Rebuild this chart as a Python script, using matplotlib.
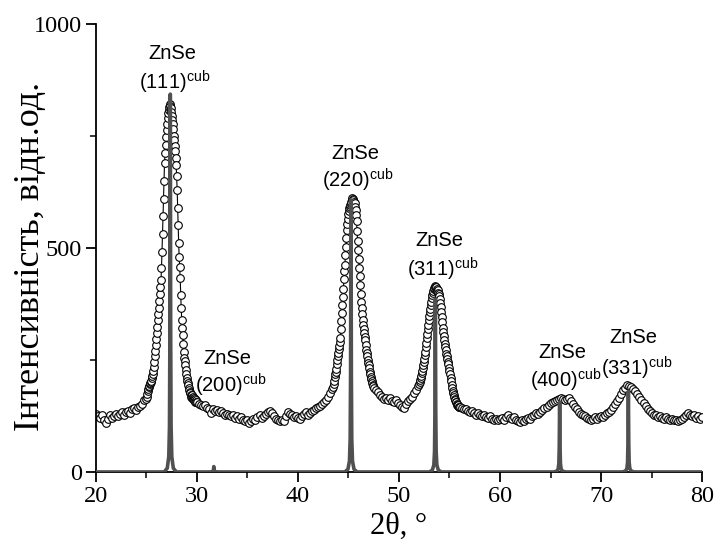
import matplotlib
matplotlib.use("Agg")
import matplotlib.pyplot as plt
import numpy as np

"""Data read off the XRD pattern"""

# measured intensity, split in runs: (start angle, step, values)
int_20_25 = [130, 125, 121, 126, 117, 110, 118, 127, 121, 125, 130, 124, 129, 133, 128,
             134, 137, 132, 140, 143, 138, 146, 148, 152, 160]
int_25_30 = [163, 168, 174, 180, 185, 189, 192, 196, 199, 201, 204, 210, 214, 219, 226,
             235, 246, 258, 270, 284, 297, 310, 324, 338, 352, 366, 382, 398, 412, 428,
             455, 490, 530, 570, 610, 650, 690, 712, 730, 748, 762, 776, 790, 800, 808,
             815, 820, 817, 812, 804, 795, 786, 776, 765, 750, 740, 728, 715, 700, 685,
             660, 630, 590, 550, 510, 480, 458, 432, 395, 365, 340, 322, 305, 285, 268,
             255, 247, 238, 228, 218, 210, 204, 198, 193, 188, 183, 179, 176, 172, 168,
             171, 165, 168, 162, 165, 160, 163, 157, 160, 155]
int_30_43 = [156, 152, 150, 147, 149, 143, 140, 132, 141, 137, 139, 133, 136, 131, 128,
             130, 126, 124, 127, 121, 124, 119, 122, 116, 113, 115, 110, 114, 118, 116,
             122, 126, 121, 125, 130, 133, 136, 131, 125, 119, 116, 113, 117, 114, 124,
             133, 130, 126, 122, 125, 120, 118, 124, 130, 133, 128, 132, 136, 139, 142,
             145, 148, 152, 156, 161, 168, 176, 185]
int_43_47 = [190, 196, 203, 212, 218, 224, 230, 240, 250, 258, 266, 274, 281, 289, 300,
             318, 336, 355, 372, 390, 408, 430, 448, 462, 484, 503, 523, 540, 553, 565,
             575, 582, 588, 592, 596, 598, 602, 606, 611, 609, 606, 603, 600, 592, 584,
             573, 560, 538, 515, 495, 475, 456, 438, 418, 397, 380, 365, 352, 338, 327,
             318, 310, 302, 294, 283, 273, 265, 258, 250, 244, 238, 231, 224, 218, 212,
             207, 202, 198, 194, 191]
int_47_52 = [188, 182, 178, 172, 168, 163, 166, 160, 164, 158, 155, 160, 154, 150, 146,
             143, 152, 158, 163, 168, 176, 183, 192]
int_52_56 = [196, 200, 206, 210, 215, 220, 226, 232, 238, 245, 252, 260, 268, 278, 288,
             298, 308, 318, 328, 338, 347, 356, 364, 372, 380, 388, 395, 400, 404, 408,
             411, 414, 413, 410, 412, 408, 404, 405, 400, 396, 392, 385, 377, 368, 358,
             346, 334, 322, 312, 303, 294, 286, 278, 271, 264, 258, 252, 246, 240, 232,
             225, 218, 210, 202, 195, 188, 181, 176, 171, 167, 163, 160, 157, 155, 152,
             150, 148, 150, 146, 144]
int_56_80 = [146, 143, 140, 141, 137, 134, 136, 131, 128, 131, 126, 124, 127, 122, 120,
             124, 118, 116, 119, 115, 118, 121, 117, 123, 126, 121, 118, 122, 117, 114,
             112, 116, 113, 119, 121, 118, 124, 128, 131, 129, 134, 138, 142, 146, 150,
             153, 156, 158, 161, 163, 164, 162, 160, 163, 166, 158, 151, 146, 140, 134,
             130, 126, 124, 121, 118, 116, 119, 122, 119, 123, 125, 122, 127, 131, 134,
             138, 144, 151, 158, 166, 174, 182, 188, 193, 192, 189, 186, 181, 175, 168,
             161, 154, 147, 141, 136, 131, 128, 126, 123, 125, 121, 119, 122, 118, 116,
             119, 115, 117, 113, 116, 119, 122, 126, 131, 127, 124, 127, 121, 124, 119,
             122]

runs = [(20.0, 0.2, int_20_25), (25.0, 0.05, int_25_30), (30.0, 0.2, int_30_43),
        (43.5, 0.05, int_43_47), (47.5, 0.2, int_47_52), (52.0, 0.05, int_52_56),
        (56.0, 0.2, int_56_80)]

# reference (card) lines of cubic ZnSe
ref_pos = [27.37, 31.68, 45.25, 53.6, 65.9, 72.7]
ref_height = [843, 12, 607, 385, 155, 180]
ref_dx = [-0.6, -0.3, -0.15, -0.08, -0.04, -0.02, 0, 0.02, 0.04, 0.08, 0.15, 0.3, 0.6]
ref_frac = [0, 0.01, 0.04, 0.12, 0.36, 0.7, 1, 0.7, 0.36, 0.12, 0.04, 0.01, 0]

# labels: (x, y of "ZnSe", x, y of "(hkl)")
hkl = ['111', '200', '220', '311', '400', '331']
lab_x1 = [27.53, 32.97, 45.64, 53.96, 66.14, 73.17]
lab_y1 = [921, 240, 698, 504, 254, 287]
lab_x2 = [27.82, 33.37, 45.94, 54.36, 66.53, 73.56]
lab_y2 = [853, 177, 635, 435, 189, 216]

"""Building arrays"""

two_theta = np.concatenate([s + st*np.arange(len(v)) for s, st, v in runs])
intensity = np.concatenate([np.array(v, float) for s, st, v in runs])

ref_x = [20.0]
ref_y = [0.0]
for p, h in zip(ref_pos, ref_height):
    ref_x += [p + d for d in ref_dx]
    ref_y += [h*f for f in ref_frac]
ref_x.append(80.0)
ref_y.append(0.0)

"""Plot"""

plt.rcParams['font.family'] = 'Liberation Serif'
plt.rcParams['mathtext.fontset'] = 'custom'
plt.rcParams['mathtext.rm'] = 'Liberation Sans'
plt.rcParams['mathtext.it'] = 'Liberation Sans:italic'

fig = plt.figure(figsize=(7.15, 5.4), dpi=100)
ax = fig.add_axes([0.134, 0.126, 0.848, 0.830])

ax.plot(two_theta, intensity, '-', color='black', lw=0.8,
        marker='o', ms=5.5, mfc='white', mec='black', mew=0.8, zorder=2)
ax.plot(ref_x, ref_y, '-', color='#505050', lw=2.6, zorder=3)

for i in range(len(hkl)):
    ax.text(lab_x1[i], lab_y1[i], 'ZnSe', family='Liberation Sans', fontsize=14.5,
            ha='center', va='baseline')
    ax.text(lab_x2[i], lab_y2[i], '(' + hkl[i] + ')$^{\\mathrm{cub}}$',
            family='Liberation Sans', fontsize=14.5, ha='center', va='baseline')

ax.set_xlim(20, 80)
ax.set_ylim(0, 1000)
ax.set_xticks(np.arange(20, 81, 10))
ax.set_xticks(np.arange(25, 80, 10), minor=True)
ax.set_yticks([0, 500, 1000])
ax.set_yticks([250, 750], minor=True)
ax.spines['top'].set_visible(False)
ax.spines['right'].set_visible(False)
ax.spines['left'].set_linewidth(1.3)
ax.spines['bottom'].set_linewidth(1.3)
ax.tick_params(which='major', direction='out', length=7, width=1.3, labelsize=17.5, pad=3)
ax.tick_params(which='minor', direction='out', length=4, width=1.1)

ax.set_xlabel('2θ, °', fontsize=22)
ax.set_ylabel('Інтенсивність, відн.од.', fontsize=26)
ax.xaxis.set_label_coords(0.5, -0.088)
ax.yaxis.set_label_coords(-0.081, 0.48)

fig.savefig('out.png', dpi=100)
